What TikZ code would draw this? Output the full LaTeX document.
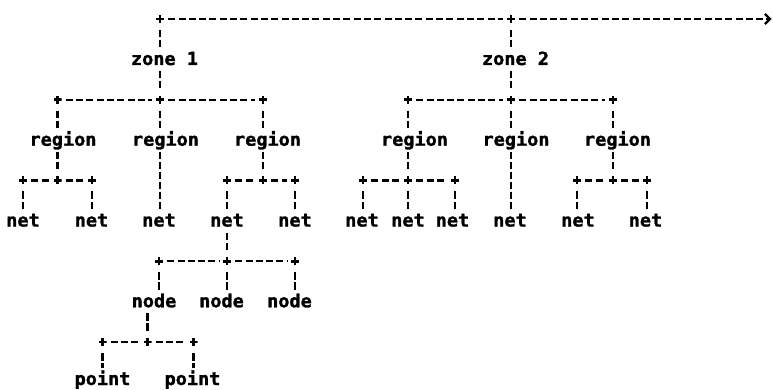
\documentclass[tikz,border=0pt]{standalone}
\usepackage{fontspec}
\newfontfamily\asc[FakeStretch=1.03,FakeBold=1.5]{DejaVu Sans Mono}
\usetikzlibrary{calc,arrows.meta}
\tikzset{
  lbl/.style={font=\asc\bfseries\fontsize{18}{18}\selectfont, inner sep=0pt, anchor=base},
  plusmark/.style={rectangle, minimum size=8pt, inner sep=0pt,
    path picture={
      \fill ([yshift=-1.3pt]path picture bounding box.west) rectangle ([yshift=1.3pt]path picture bounding box.east);
      \fill ([xshift=-1.3pt]path picture bounding box.south) rectangle ([xshift=1.3pt]path picture bounding box.north);
    }},
  hl/.style={line width=2.3pt, dash pattern=on 7pt off 3.3pt, shorten <=4pt, shorten >=4pt},
  vl/.style={line width=2.5pt, dash pattern=on 7.5pt off 2.5pt},
}
\newcommand\linkdown[2]{\draw[vl] ($(#1)+(0,11)$) -- ($(#1 |- #2.base)+(0,-17)$);}
\newcommand\linkup[2]{\draw[vl] ($(#2 |- #1.base)+(0,6)$) -- ($(#2)+(0,-11)$);}
\newcommand\linkthru[3]{\draw[vl] ($(#1 |- #2.base)+(0,6)$) -- ($(#1 |- #3.base)+(0,-17)$);}
\begin{document}
\begin{tikzpicture}[x=1pt,y=-1pt]
\fill[white] (0,0) rectangle (773,390);
\useasboundingbox (0,0) rectangle (773,390);

% plus marks
\node[plusmark] (pT1) at (160,19) {};
\node[plusmark] (pT2) at (511,19) {};
\coordinate (tend) at (772,19);

\node[plusmark] (pA)  at (57.5,99.75) {};
\node[plusmark] (pZ1) at (160,99.75) {};
\node[plusmark] (pB)  at (263,99.75) {};
\node[plusmark] (pE)  at (408,99.75) {};
\node[plusmark] (pZ2) at (511,99.75) {};
\node[plusmark] (pG)  at (613,99.75) {};

\node[plusmark] (pA1) at (23,180.5) {};
\node[plusmark] (pAm) at (57.5,180.5) {};
\node[plusmark] (pA2) at (92,180.5) {};
\node[plusmark] (pC1) at (227,180.5) {};
\node[plusmark] (pCm) at (263,180.5) {};
\node[plusmark] (pC2) at (295,180.5) {};
\node[plusmark] (pE1) at (363,180.5) {};
\node[plusmark] (pEm) at (408,180.5) {};
\node[plusmark] (pE2) at (455,180.5) {};
\node[plusmark] (pG1) at (577,180.5) {};
\node[plusmark] (pGm) at (613,180.5) {};
\node[plusmark] (pG2) at (647,180.5) {};

\node[plusmark] (pN1) at (159,261.25) {};
\node[plusmark] (pNm) at (227,261.25) {};
\node[plusmark] (pN2) at (295,261.25) {};

\node[plusmark] (pD1) at (102.5,342) {};
\node[plusmark] (pDm) at (147.5,342) {};
\node[plusmark] (pD2) at (193.5,342) {};

% labels
\node[lbl] (z1) at (164.5,65) {zone 1};
\node[lbl] (z2) at (515.5,65) {zone 2};

\node[lbl] (rA) at (63,145.75) {region};
\node[lbl] (rB) at (165.5,145.75) {region};
\node[lbl] (rC) at (267.5,145.75) {region};
\node[lbl] (rE) at (414.5,145.75) {region};
\node[lbl] (rF) at (516,145.75) {region};
\node[lbl] (rG) at (617.5,145.75) {region};

\node[lbl] (nA1) at (23,226.5) {net};
\node[lbl] (nA2) at (91.5,226.5) {net};
\node[lbl] (nB)  at (159,226.5) {net};
\node[lbl] (nC1) at (227,226.5) {net};
\node[lbl] (nC2) at (295,226.5) {net};
\node[lbl] (nE1) at (362,226.5) {net};
\node[lbl] (nE2) at (408,226.5) {net};
\node[lbl] (nE3) at (452.5,226.5) {net};
\node[lbl] (nF)  at (510,226.5) {net};
\node[lbl] (nG1) at (578,226.5) {net};
\node[lbl] (nG2) at (645.5,226.5) {net};

\node[lbl] (d1) at (154,307.25) {node};
\node[lbl] (d2) at (221.5,307.25) {node};
\node[lbl] (d3) at (289.5,307.25) {node};

\node[lbl] (t1) at (102.5,385) {point};
\node[lbl] (t2) at (192.5,385) {point};

% horizontal connectors
\draw[hl] (pT1) -- (pT2);
\draw[hl, shorten >=0.5pt, -{Straight Barb[length=5pt,width=10pt]}] (pT2) -- (tend);
\draw[hl] (pA) -- (pZ1);  \draw[hl] (pZ1) -- (pB);
\draw[hl] (pE) -- (pZ2);  \draw[hl] (pZ2) -- (pG);
\draw[hl] (pA1) -- (pAm); \draw[hl] (pAm) -- (pA2);
\draw[hl] (pC1) -- (pCm); \draw[hl] (pCm) -- (pC2);
\draw[hl] (pE1) -- (pEm); \draw[hl] (pEm) -- (pE2);
\draw[hl] (pG1) -- (pGm); \draw[hl] (pGm) -- (pG2);
\draw[hl] (pN1) -- (pNm); \draw[hl] (pNm) -- (pN2);
\draw[hl] (pD1) -- (pDm); \draw[hl] (pDm) -- (pD2);

% vertical connectors, zone 1
\linkdown{pT1}{z1}
\linkup{z1}{pZ1}
\linkdown{pA}{rA}
\linkdown{pZ1}{rB}
\linkdown{pB}{rC}
\linkup{rA}{pAm}
\linkthru{pZ1}{rB}{nB}
\linkup{rC}{pCm}
\linkdown{pA1}{nA1}
\linkdown{pA2}{nA2}
\linkdown{pC1}{nC1}
\linkdown{pC2}{nC2}
\linkup{nC1}{pNm}
\linkdown{pN1}{d1}
\linkdown{pNm}{d2}
\linkdown{pN2}{d3}
\linkup{d1}{pDm}
\linkdown{pD1}{t1}
\linkdown{pD2}{t2}

% vertical connectors, zone 2
\linkdown{pT2}{z2}
\linkup{z2}{pZ2}
\linkdown{pE}{rE}
\linkdown{pZ2}{rF}
\linkdown{pG}{rG}
\linkup{rE}{pEm}
\linkthru{pZ2}{rF}{nF}
\linkup{rG}{pGm}
\linkdown{pE1}{nE1}
\linkdown{pEm}{nE2}
\linkdown{pE2}{nE3}
\linkdown{pG1}{nG1}
\linkdown{pG2}{nG2}
\end{tikzpicture}
\end{document}
